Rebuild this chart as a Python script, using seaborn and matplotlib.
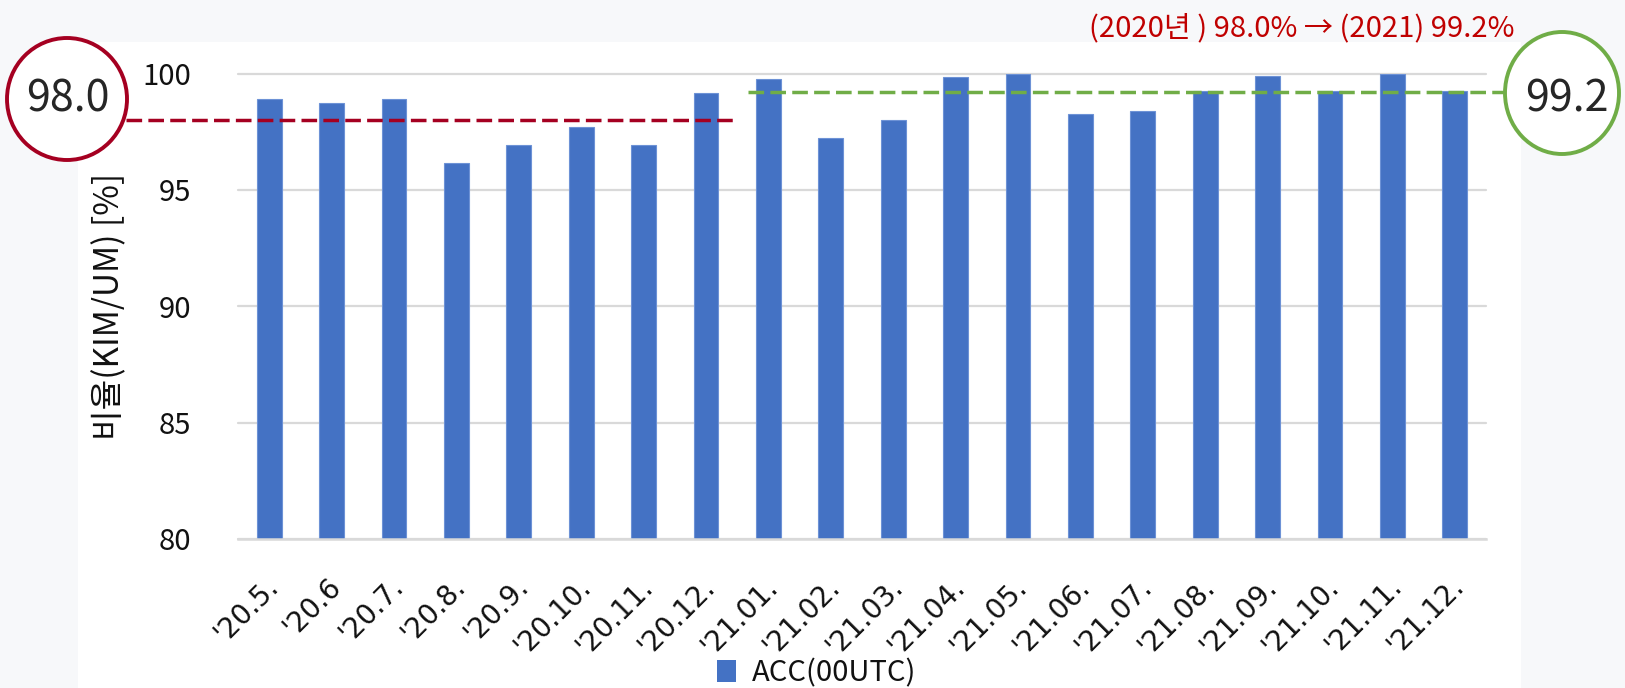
import matplotlib
matplotlib.use("Agg")
import matplotlib.pyplot as plt
import matplotlib.transforms as mtransforms
from matplotlib.patches import Ellipse, Rectangle, Patch
import pandas as pd
import seaborn as sns

# Monthly KIM/UM ratio, 00UTC runs
months = ["'20.5.", "'20.6", "'20.7.", "'20.8.", "'20.9.", "'20.10.", "'20.11.", "'20.12.",
          "'21.01.", "'21.02.", "'21.03.", "'21.04.", "'21.05.", "'21.06.", "'21.07.", "'21.08.",
          "'21.09.", "'21.10.", "'21.11.", "'21.12."]
acc_00utc = [98.9, 98.75, 98.9, 96.15, 96.95, 97.7, 96.95, 99.15,
             99.75, 97.25, 98.0, 99.85, 100.0, 98.25, 98.4, 99.25,
             99.9, 99.25, 100.0, 99.25]
mean_2020 = 98.0
mean_2021 = 99.2
mean_2020_text = "98.0"
mean_2021_text = "99.2"
series_label = "ACC(00UTC)"
y_label = "비율(KIM/UM) [%]"
summary_text = "(2020년 ) 98.0% → (2021) 99.2%"
y_ticks = [80, 85, 90, 95, 100]

BAR = "#4472c4"
RED = "#a50021"
GREEN = "#70ad47"
GRID = "#d9d9d9"
INK = "#111111"

sns.set_theme(style="white")
plt.rcParams["font.family"] = ["Noto Sans CJK KR", "DejaVu Sans"]
plt.rcParams["text.color"] = INK

W, H = 1625, 688
fig = plt.figure(figsize=(W / 100, H / 100), dpi=100)
fig.patch.set_facecolor("#f7f8fa")

# white slide panel behind the chart
fig.add_artist(Rectangle((78 / W, 0), (1521 - 78) / W, (H - 42) / H,
                         transform=fig.transFigure, facecolor="white",
                         edgecolor="none", zorder=-1))

ax = fig.add_axes([238 / W, 1 - 539 / H, (1486 - 238) / W, (539 - 73.6) / H])
ax.set_facecolor("white")

df = pd.DataFrame({"month": months, "acc": acc_00utc})
sns.barplot(data=df, x="month", y="acc", color=BAR, saturation=1, width=0.4,
            edgecolor="#6d92d6", linewidth=0.8, ax=ax)

ax.set_ylim(80, 100)
ax.set_xlim(-0.5, len(months) - 0.5)
ax.set_yticks(y_ticks)
ax.yaxis.grid(True, color=GRID, linewidth=1.6)
for gl in ax.yaxis.get_gridlines():
    gl.set_clip_on(False)
ax.set_axisbelow(True)
for side in ["left", "right", "top"]:
    ax.spines[side].set_visible(False)
ax.spines["bottom"].set_color(GRID)
ax.spines["bottom"].set_linewidth(1.8)

ax.tick_params(axis="y", length=0, pad=34, labelsize=21, labelcolor=INK)
ax.tick_params(axis="x", length=0, pad=31, labelcolor=INK)
ax.set_xticks(range(len(months)))
ax.set_xticklabels(months, rotation=45, ha="right", va="center",
                   rotation_mode="anchor", fontsize=20, family="DejaVu Sans")
shift = mtransforms.ScaledTranslation(5 / 100, 0, fig.dpi_scale_trans)
for lbl in ax.get_xticklabels():
    lbl.set_transform(lbl.get_transform() + shift)

ax.set_xlabel("")
ax.set_ylabel(y_label, fontsize=24, color=INK)
ax.yaxis.set_label_coords(-0.0890, 0.5)

# yearly averages as dashed reference lines
ax.hlines(mean_2020, -2.3, 7.48, colors=RED, linestyles=(0, (4.5, 1.8)),
          linewidth=2.5, clip_on=False, zorder=5)
ax.hlines(mean_2021, 7.67, 19.85, colors=GREEN, linestyles=(0, (4.5, 1.8)),
          linewidth=2.5, clip_on=False, zorder=5)

# circled yearly averages
fig.add_artist(Ellipse((67 / W, 1 - 99 / H), 120 / W, 122 / H, transform=fig.transFigure,
                       facecolor="white", edgecolor=RED, linewidth=2.8, zorder=6))
fig.text(68 / W, 1 - 100 / H, mean_2020_text, ha="center", va="center",
         fontsize=31, color="#262626", zorder=7)
fig.add_artist(Ellipse((1562 / W, 1 - 93 / H), 114 / W, 122 / H, transform=fig.transFigure,
                       facecolor="white", edgecolor=GREEN, linewidth=2.8, zorder=6))
fig.text(1567 / W, 1 - 100 / H, mean_2021_text, ha="center", va="center",
         fontsize=31, color="#262626", zorder=7)

fig.text(1302 / W, 1 - 28 / H, summary_text, ha="center", va="center",
         fontsize=21, color="#c00000")

ax.legend(handles=[Patch(facecolor=BAR, edgecolor="none", label=series_label)],
          loc="center", bbox_to_anchor=(817 / W, 1 - 673 / H),
          bbox_transform=fig.transFigure, frameon=False, fontsize=21,
          handlelength=0.65, handleheight=0.75, handletextpad=0.55,
          borderpad=0, borderaxespad=0)

fig.savefig("out.png", dpi=100, facecolor=fig.get_facecolor())
